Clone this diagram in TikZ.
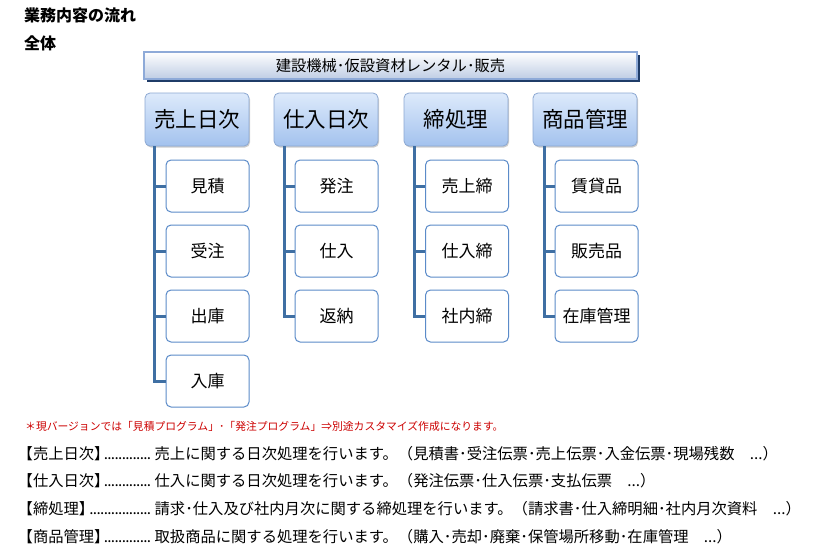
\documentclass[tikz,border=0pt]{standalone}
\usepackage{fontspec}
\setmainfont{Noto Sans CJK JP}
\usetikzlibrary{shadows,calc}
\definecolor{connc}{HTML}{3F6FA3}
\definecolor{childb}{HTML}{5B8BC9}
\definecolor{partop}{HTML}{DDEAFB}
\definecolor{parbot}{HTML}{A3C2EE}
\definecolor{parb}{HTML}{8CA8D2}
\definecolor{banbot}{HTML}{BFCDE4}
\definecolor{banb}{HTML}{8EAAD8}
\definecolor{banshadow}{HTML}{1F3C68}
\definecolor{notered}{HTML}{CC0000}
\newcommand{\myleaders}{\kern-0.4em\leaders\hbox to 3.6pt{\hss.\hss}\hfill\kern2.5pt}
\begin{document}
\begin{tikzpicture}[x=1pt,y=-1pt,
  parbox/.style={draw=parb, line width=0.8pt, rounded corners=5pt,
    top color=partop, bottom color=parbot, minimum width=104pt,
    minimum height=53pt, inner sep=0pt, font=\fontsize{21.5}{24}\selectfont,
    drop shadow={shadow xshift=1pt, shadow yshift=-1.5pt, fill=black, opacity=0.2}},
  childbox/.style={draw=childb, line width=1pt, rounded corners=5pt,
    fill=white, minimum width=83pt, minimum height=52pt, inner sep=0pt,
    font=\fontsize{17}{20}\selectfont},
  connline/.style={draw=connc, line width=3pt},
  banner/.style={draw=banb, line width=1.2pt, top color=white, bottom color=banbot,
    minimum width=493pt, minimum height=27pt, inner sep=0pt,
    font=\fontsize{15.3}{17}\selectfont,
    drop shadow={shadow xshift=3pt, shadow yshift=-3pt, fill=banshadow, opacity=1}},
  headtxt/.style={anchor=west, inner sep=0pt, font=\bfseries\fontsize{16}{18}\selectfont},
  notetxt/.style={anchor=west, inner sep=0pt, text=notered, font=\fontsize{10.8}{13}\selectfont},
  desctxt/.style={anchor=west, inner sep=0pt, font=\fontsize{15.3}{18}\selectfont},
]
\useasboundingbox[fill=white] (0,0) rectangle (814,554);

\node[headtxt] (h1) at (24,15) {業務内容の流れ};
\node[headtxt] (h2) at (24,43) {全体};

\node[banner] (ban) at (390.5,65.5) {建設機械･仮設資材レンタル･販売};

% level 1
\node[parbox] (p1) at (197,119.5) {売上日次};
\node[parbox] (p2) at (326,119.5) {仕入日次};
\node[parbox] (p3) at (456,119.5) {締処理};
\node[parbox] (p4) at (585,119.5) {商品管理};

% level 2
\node[childbox] (c1a) at (207.5,186) {見積};
\node[childbox] (c1b) at (207.5,251) {受注};
\node[childbox] (c1c) at (207.5,316) {出庫};
\node[childbox] (c1d) at (207.5,381) {入庫};

\node[childbox] (c2a) at (336.5,186) {発注};
\node[childbox] (c2b) at (336.5,251) {仕入};
\node[childbox] (c2c) at (336.5,316) {返納};

\node[childbox] (c3a) at (467,186) {売上締};
\node[childbox] (c3b) at (467,251) {仕入締};
\node[childbox] (c3c) at (467,316) {社内締};

\node[childbox] (c4a) at (596.5,186) {賃貸品};
\node[childbox] (c4b) at (596.5,251) {販売品};
\node[childbox] (c4c) at (596.5,316) {在庫管理};

% connectors
\coordinate (t1) at ([xshift=10pt]p1.south west);
\coordinate (t2) at ([xshift=11pt]p2.south west);
\coordinate (t3) at ([xshift=11pt]p3.south west);
\coordinate (t4) at ([xshift=12pt]p4.south west);
\draw[connline] (t1) |- (c1a.west);
\draw[connline] (t1) |- (c1b.west);
\draw[connline] (t1) |- (c1c.west);
\draw[connline] (t1) |- (c1d.west);
\draw[connline] (t2) |- (c2a.west);
\draw[connline] (t2) |- (c2b.west);
\draw[connline] (t2) |- (c2c.west);
\draw[connline] (t3) |- (c3a.west);
\draw[connline] (t3) |- (c3b.west);
\draw[connline] (t3) |- (c3c.west);
\draw[connline] (t4) |- (c4a.west);
\draw[connline] (t4) |- (c4b.west);
\draw[connline] (t4) |- (c4c.west);

% note
\node[notetxt] (note) at (25,426) {＊現バージョンでは「見積プログラム」･「発注プログラム」⇒別途カスタマイズ作成になります。};

% descriptions
\node[desctxt] (d1) at (17.5,454) {\makebox[137pt][l]{【売上日次】\myleaders}売上に関する日次処理を行います。（見積書･受注伝票･売上伝票･入金伝票･現場残数　...）};
\node[desctxt] (d2) at (17.5,481) {\makebox[137pt][l]{【仕入日次】\myleaders}仕入に関する日次処理を行います。（発注伝票･仕入伝票･支払伝票　...）};
\node[desctxt] (d3) at (17.5,508.5) {\makebox[137pt][l]{【締処理】\myleaders}請求･仕入及び社内月次に関する締処理を行います。（請求書･仕入締明細･社内月次資料　...）};
\node[desctxt] (d4) at (17.5,536.5) {\makebox[137pt][l]{【商品管理】\myleaders}取扱商品に関する処理を行います。（購入･売却･廃棄･保管場所移動･在庫管理　...）};
\end{tikzpicture}
\end{document}
